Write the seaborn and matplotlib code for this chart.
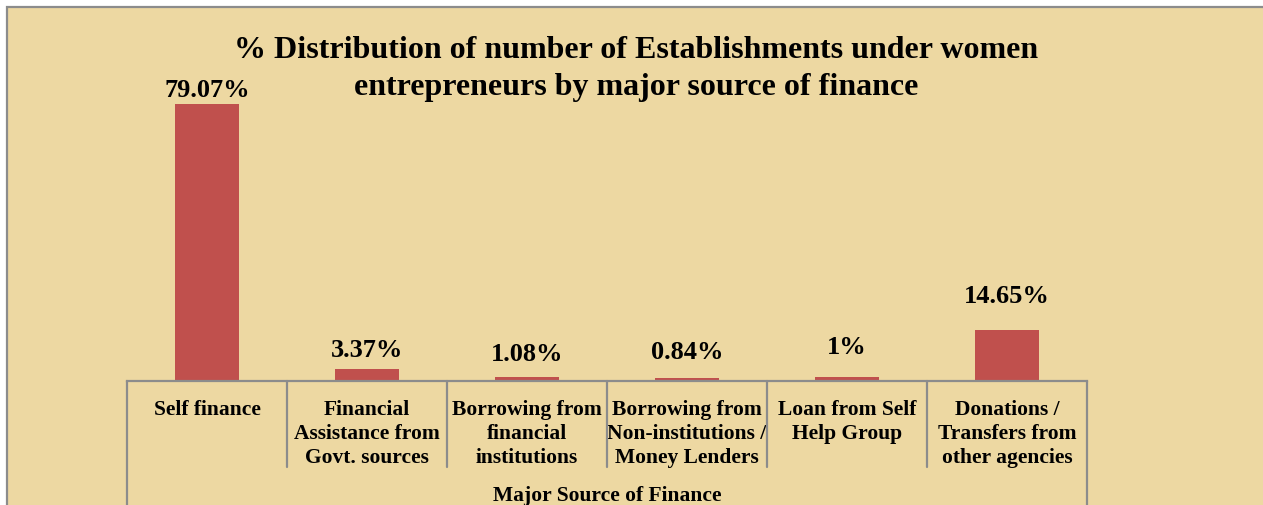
import matplotlib
matplotlib.use("Agg")
import matplotlib.pyplot as plt
import seaborn as sns
import pandas as pd
from matplotlib.patches import Rectangle

# data
categories = [
    "Self finance",
    "Financial\nAssistance from\nGovt. sources",
    "Borrowing from\nfinancial\ninstitutions",
    "Borrowing from\nNon-institutions /\nMoney Lenders",
    "Loan from Self\nHelp Group",
    "Donations /\nTransfers from\nother agencies",
]
shares = [79.07, 3.37, 1.08, 0.84, 1.0, 14.65]
share_labels = ["79.07%", "3.37%", "1.08%", "0.84%", "1%", "14.65%"]
title_lines = ["% Distribution of number of Establishments under women",
               "entrepreneurs by major source of finance"]

# style
BG = "#EDD8A2"
BAR = "#C0504D"
GRID = "#8C8C8C"
label_pad = [2, 6, 9, 11, 14, 16]  # points above each bar

sns.set_theme(style="white")
plt.rcParams["font.family"] = ["Liberation Serif", "DejaVu Serif"]
plt.rcParams["font.weight"] = "bold"
plt.rcParams["text.color"] = "black"
plt.rcParams["xtick.color"] = "black"

W, H = 1263, 506
fig = plt.figure(figsize=(W / 100, H / 100), dpi=100, facecolor="white")

# parchment panel with grey frame
fig.patches.append(Rectangle((7 / W, -0.1), 1.2, (H - 8) / H + 0.1,
                             transform=fig.transFigure, facecolor=BG,
                             edgecolor=GRID, linewidth=1.6, zorder=-5))

ax_left, ax_bottom = 127 / W, (H - 382) / H
ax_w, ax_h = 960 / W, 282 / H
ax = fig.add_axes([ax_left, ax_bottom, ax_w, ax_h])
ax.set_facecolor("none")

df = pd.DataFrame({"cat": categories, "share": shares})
sns.barplot(data=df, x="cat", y="share", color=BAR, width=0.4,
            saturation=1, linewidth=0, ax=ax)

ax.set_xlim(-0.5, len(categories) - 0.5)
ax.set_ylim(0, 79.07 * 282 / 277)
ax.set_yticks([])
ax.set_ylabel("")
ax.set_xlabel("")

for i, bar in enumerate(ax.patches):
    ax.annotate(share_labels[i], (bar.get_x() + bar.get_width() / 2, bar.get_height()),
                xytext=(0, label_pad[i]), textcoords="offset points",
                ha="center", va="bottom", fontsize=19, fontweight="bold")

ax.set_xticks(range(len(categories)))
ax.set_xticklabels(categories, fontsize=15.5, fontweight="bold",
                   linespacing=1.25, multialignment="center")
ax.tick_params(axis="x", length=0, pad=13)

for s in ["left", "right", "top"]:
    ax.spines[s].set_visible(False)
ax.spines["bottom"].set_color(GRID)
ax.spines["bottom"].set_linewidth(1.6)

# category separators below the axis
tr = ax.get_xaxis_transform()
n = len(categories)
for k in range(n + 1):
    xpos = k - 0.5
    bottom = -124 / 282 - 0.05 if k in (0, n) else -86 / 282
    ax.plot([xpos, xpos], [0, bottom], transform=tr, color=GRID,
            linewidth=1.6, clip_on=False)

ax.text(0.5, -114 / 282, "Major Source of Finance", transform=ax.transAxes,
        ha="center", va="center", fontsize=15.5, fontweight="bold")

# title, one text per line
for line, ypix in zip(title_lines, [50, 87]):
    fig.text(636 / W, 1 - ypix / H, line, ha="center", va="center",
             fontsize=23, fontweight="bold")

fig.savefig("out.png", dpi=100, facecolor=fig.get_facecolor())
